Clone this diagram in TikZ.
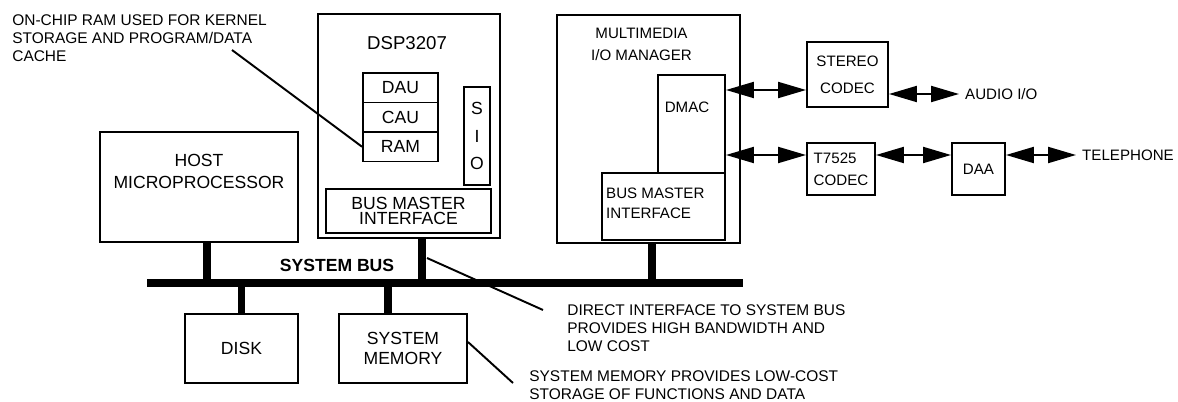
\documentclass[tikz,border=0pt]{standalone}
\usepackage{fontspec}
\setmainfont{Liberation Sans}
\usetikzlibrary{arrows.meta}

\tikzset{
  blk/.style={draw, line width=1.1pt, inner sep=0pt},
  big/.style={font=\fontsize{10}{12}\selectfont, align=center},
  sml/.style={font=\fontsize{8.6}{10.3}\selectfont},
  note/.style={font=\fontsize{8.8}{10.2}\selectfont, align=left, anchor=north west, inner sep=0pt},
  stub/.style={line width=4pt},
  lead/.style={line width=1.1pt},
  dbl/.style={line width=1.2pt, >={Triangle[length=5.6mm,width=3.2mm]}, <->},
}

\begin{document}
\begin{tikzpicture}[x=0.2mm, y=-0.2mm]
    \useasboundingbox (0,0) rectangle (1178,402);
    \coordinate (busW) at (147,283);
    \coordinate (busE) at (743,283);
    \draw[line width=4.5pt] (busW) -- (busE);
    \node[font=\bfseries\fontsize{10}{12}\selectfont] (buslbl) at (337,265) {SYSTEM BUS};

    \node[blk, minimum width=39.6mm, minimum height=22mm] (host) at (199,187) {};
    \node[big] (hostlbl) at (199,171.5) {HOST\\[1pt]MICROPROCESSOR};
    \coordinate (hs) at ([xshift=1.6mm]host.south);
    \draw[stub] (hs) -- (hs |- busW);

    \node[blk, minimum width=36.4mm, minimum height=44.8mm] (dsp) at (409,126) {};
    \node[font=\fontsize{10.6}{12.7}\selectfont] (dspname) at (407,43) {DSP3207};
    \foreach \unit [count=\i] in {DAU,CAU,RAM}{
      \node[blk, big, minimum width=15mm, minimum height=5.9mm] (\unit) at (400.5,58.25+29.5*\i) {\unit};
    }
    \node[blk, big, minimum width=5.2mm, minimum height=19.6mm] (sio) at (477,136) {S\\[1.2mm]I\\[1.2mm]O};
    \node[blk, big, minimum width=33mm, minimum height=8.8mm] (dspbmi) at (408.5,211) {BUS MASTER\\[-3.5pt]INTERFACE};
    \coordinate (ds) at ([xshift=2.6mm]dsp.south);
    \draw[stub] (ds) -- (ds |- busW);

    \node[blk, minimum width=36.6mm, minimum height=45.6mm] (mm) at (648.5,129) {};
    \node[sml, align=center] (mmname) at (641.5,44) {MULTIMEDIA\\[2.2pt]I/O MANAGER};
    \node[blk, minimum width=13.4mm, minimum height=19.6mm] (dmac) at (691.5,124) {};
    \node[sml] (dmaclbl) at (687,107) {DMAC};
    \node[blk, minimum width=24.6mm, minimum height=13.4mm] (mmbmi) at (663.5,206.5) {};
    \node[sml, align=left, anchor=west] (mmbmilbl) at (600,203) {BUS MASTER\\[1pt]INTERFACE};
    \coordinate (ms) at ([xshift=0.7mm]mm.south);
    \draw[stub] (ms) -- (ms |- busW);

    \node[blk, sml, align=center, minimum width=16.2mm, minimum height=13mm] (stereo) at (847.5,74.5) {STEREO\\[5pt]CODEC};
    \node[blk, sml, align=left, minimum width=13.6mm, minimum height=10.4mm] (t7525) at (841,169) {T7525\\[2.2pt]CODEC};
    \node[blk, sml, minimum width=10.6mm, minimum height=10.4mm] (daa) at (978.5,169) {DAA};
    \node[sml, anchor=west] (audio) at (959,94) {AUDIO I/O};
    \node[sml, anchor=west] (phone) at (1076,155) {TELEPHONE};
    \coordinate (sA) at ([yshift=-3.1mm]stereo.west);
    \coordinate (tA) at ([yshift=2.8mm]t7525.west);
    \draw[dbl] (dmac.east |- sA) -- (sA);
    \draw[dbl] (dmac.east |- tA) -- (tA);
    \draw[dbl] (stereo.east |- audio.west) -- (audio.west);
    \draw[dbl] ([yshift=2.8mm]t7525.east) -- ([yshift=2.8mm]daa.west);
    \draw[dbl] (daa.east |- phone.west) -- (phone.west);

    \node[blk, big, minimum width=22.6mm, minimum height=13.8mm] (disk) at (241.5,348.5) {DISK};
    \node[blk, big, minimum width=25.6mm, minimum height=13.8mm] (mem) at (403,348.5) {SYSTEM\\[-0.7pt]MEMORY};
    \draw[stub] (disk.north) -- (disk.north |- busW);
    \coordinate (mt) at ([xshift=-3mm]mem.north);
    \draw[stub] (mt) -- (mt |- busW);

    \node[note] (ramnote) at (12,14.5) {ON-CHIP RAM USED FOR KERNEL\\STORAGE AND PROGRAM/DATA\\CACHE};
    \coordinate (ramtip) at (232,50);
    \draw[lead] (ramtip) -- (RAM.west);
    \node[note] (busnote) at (567,304.5) {DIRECT INTERFACE TO SYSTEM BUS\\PROVIDES HIGH BANDWIDTH AND\\LOW COST};
    \coordinate (busfoot) at (427,258);
    \draw[lead] (busfoot) -- ([xshift=-4.8mm,yshift=-1.1mm]busnote.north west);
    \node[note] (memnote) at (529,370.5) {SYSTEM MEMORY PROVIDES LOW-COST\\STORAGE OF FUNCTIONS AND DATA};
    \draw[lead] ([yshift=1.3mm]mem.east) -- ([xshift=-3.2mm,yshift=-2.5mm]memnote.north west);
\end{tikzpicture}
\end{document}
